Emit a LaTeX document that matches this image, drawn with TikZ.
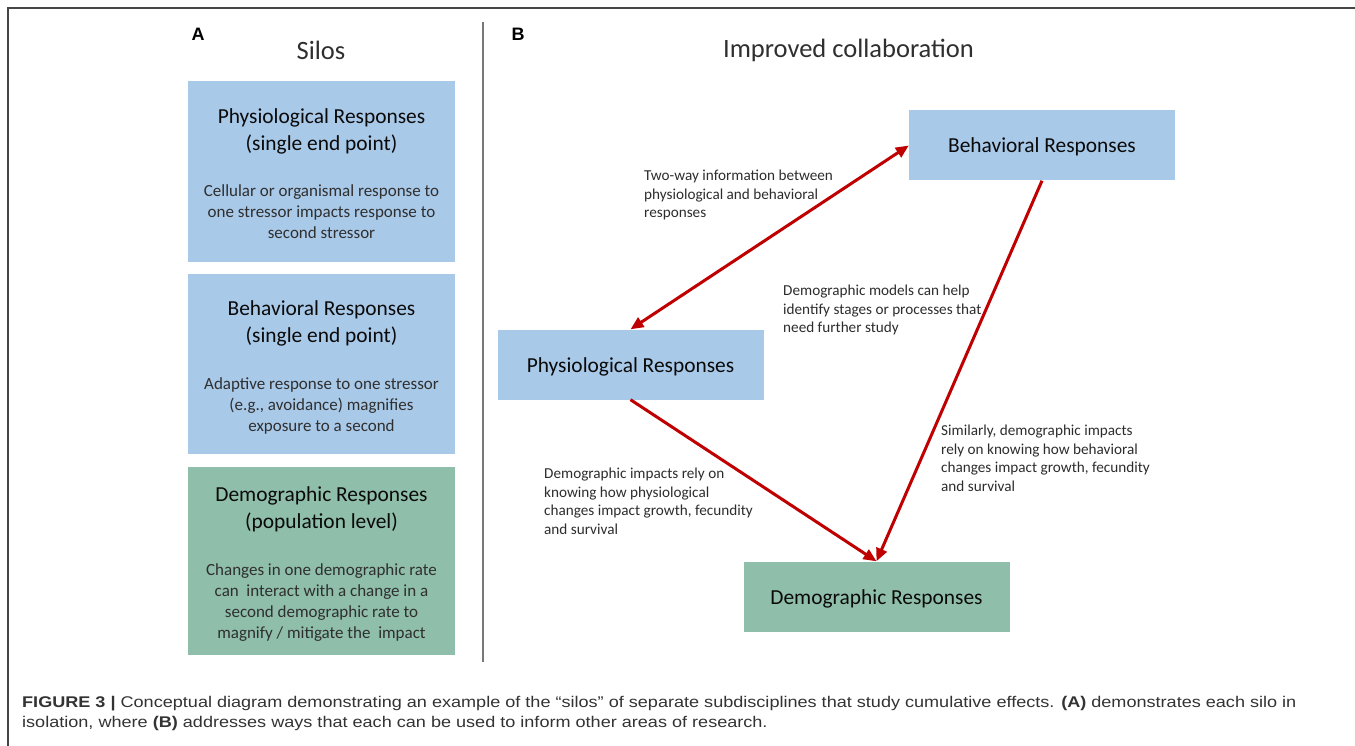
\documentclass[tikz,border=0pt]{standalone}
\usepackage{fontspec}
\setmainfont{Carlito}
\newfontfamily\capfont{Liberation Sans}
\usetikzlibrary{arrows.meta}

\definecolor{boxblue}{RGB}{169,201,233}
\definecolor{boxgreen}{RGB}{143,190,170}
\definecolor{arrowred}{RGB}{192,0,0}
\definecolor{framegray}{RGB}{70,70,70}
\definecolor{rulegray}{RGB}{120,120,120}
\definecolor{ink}{RGB}{10,10,10}
\definecolor{noteink}{RGB}{45,45,45}

\newcommand{\capline}[1]{\scalebox{1.166}[1]{#1}}

\tikzset{
  silo/.style={rectangle, inner sep=0pt, minimum width=267pt, minimum height=#1},
  flowbox/.style={rectangle, inner sep=0pt, minimum width=266pt, minimum height=70pt,
                  text height=15pt, text depth=0pt,
                  text=ink, font=\fontsize{21.4}{26}\selectfont},
  heading/.style={inner sep=0pt, align=center, text=ink, font=\fontsize{21.4}{27}\selectfont},
  detail/.style={inner sep=0pt, align=center, text=ink!85, font=\fontsize{17}{21}\selectfont},
  note/.style={inner sep=0pt, align=left, anchor=west, text=noteink, font=\fontsize{15.2}{18.5}\selectfont},
  paneltitle/.style={inner sep=0pt, text=ink!85, font=\fontsize{26.5}{30}\selectfont},
  panelletter/.style={inner sep=0pt, font=\capfont\bfseries\fontsize{18}{20}\selectfont},
  link/.style={draw=arrowred, line width=3pt,
               -{Triangle[length=13pt,width=11pt]}},
  twoway/.style={link, {Triangle[length=13pt,width=11pt]}-{Triangle[length=13pt,width=11pt]}},
  captext/.style={inner sep=0pt, anchor=base west, text=black!80,
                  font=\capfont\fontsize{15.5}{20}\selectfont}
}

\begin{document}
\begin{tikzpicture}[x=1pt, y=-1pt]
\useasboundingbox (0,0) rectangle (1355,746);
\fill[white] (0,0) rectangle (1355,746);

% outer frame (top and left edges)
\draw[framegray, line width=2pt] (8,746) -- (8,8.5) -- (1355,8.5);

% divider between the two panels
\draw[rulegray, line width=1.2pt] (483,22) -- (483,662);

% ---------- Panel A: silos ----------
\node[panelletter] (labA) at (198,34) {A};
\node[paneltitle] (silos) at (321,50) {Silos};

\node[silo=181pt, fill=boxblue] (physA) at (321.5,171.5) {};
\node[heading] (physAh) at (321.5,131.5) {Physiological Responses\\(single end point)};
\node[detail] (physAd) at (321.5,211.5) {Cellular or organismal response to\\one stressor impacts response to\\second stressor};

\node[silo=180pt, fill=boxblue] (behA) at (321.5,364) {};
\node[heading] (behAh) at (321.5,323.5) {Behavioral Responses\\(single end point)};
\node[detail] (behAd) at (321.5,405.5) {Adaptive response to one stressor\\(e.g., avoidance) magnifies\\exposure to a second};

\node[silo=188pt, fill=boxgreen] (demA) at (321.5,561) {};
\node[heading] (demAh) at (321.5,509.5) {Demographic Responses\\(population level)};
\node[detail] (demAd) at (321.5,602.5) {Changes in one demographic rate\\can\ \ interact with a change in a\\second demographic rate to\\magnify / mitigate the\ \ impact};

% ---------- Panel B: improved collaboration ----------
\node[panelletter] (labB) at (518,34) {B};
\node[paneltitle] (collab) at (848.5,50) {Improved collaboration};

\node[flowbox, fill=boxblue] (beh) at (1042,145.5) {Behavioral Responses};
\node[flowbox, fill=boxblue] (phys) at (630.5,364.5) {Physiological Responses};
\node[flowbox, fill=boxgreen] (dem) at (876.5,596.5) {Demographic Responses};

\draw[twoway] (phys.north) -- (beh.west);
\draw[link] (phys.south) -- (dem.north);
\draw[link] (beh.south) -- (dem.north);

\node[note] (n1) at (644,195) {Two-way information between\\physiological and behavioral\\responses};
\node[note] (n2) at (783,310) {Demographic models can help\\identify stages or processes that\\need further study};
\node[note] (n3) at (544,501.5) {Demographic impacts rely on\\knowing how physiological\\changes impact growth, fecundity\\and survival};
\node[note] (n4) at (941,458.5) {Similarly, demographic impacts\\rely on knowing how behavioral\\changes impact growth, fecundity\\and survival};

% ---------- caption ----------
\node[captext] (cap1) at (22,707) {\capline{\textbf{FIGURE 3 |} Conceptual diagram demonstrating an example of the “silos” of separate subdisciplines that study cumulative effects. \textbf{(A)} demonstrates each silo in}};
\node[captext] (cap2) at (22,727) {\capline{isolation, where \textbf{(B)} addresses ways that each can be used to inform other areas of research.}};
\end{tikzpicture}
\end{document}
